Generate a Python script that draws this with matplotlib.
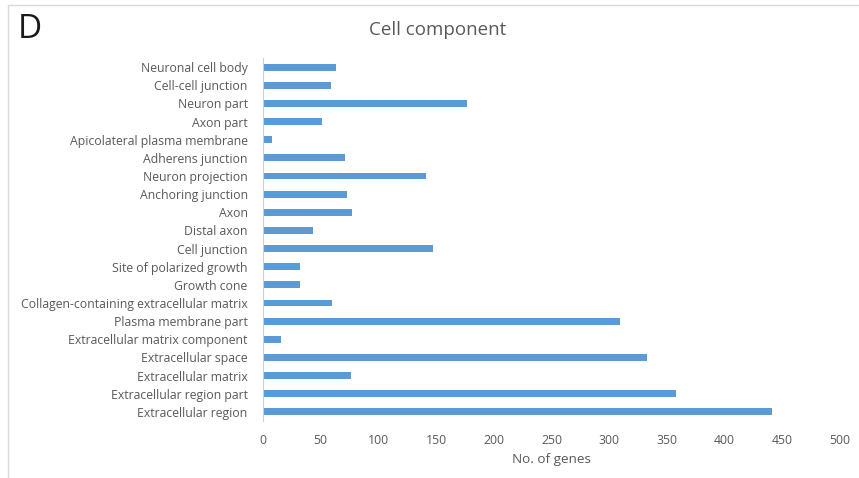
import matplotlib.pyplot as plt
from matplotlib.patches import Rectangle

# GO cell component terms, listed bottom to top
terms = [
    "Extracellular region",
    "Extracellular region part",
    "Extracellular matrix",
    "Extracellular space",
    "Extracellular matrix component",
    "Plasma membrane part",
    "Collagen-containing extracellular matrix",
    "Growth cone",
    "Site of polarized growth",
    "Cell junction",
    "Distal axon",
    "Axon",
    "Anchoring junction",
    "Neuron projection",
    "Adherens junction",
    "Apicolateral plasma membrane",
    "Axon part",
    "Neuron part",
    "Cell-cell junction",
    "Neuronal cell body",
]
gene_counts = [441, 358, 76, 333, 16, 309, 60, 32, 32, 147,
               43, 77, 73, 141, 71, 8, 51, 177, 59, 63]
xticks = [0, 50, 100, 150, 200, 250, 300, 350, 400, 450, 500]

plt.rcParams['font.family'] = ['Open Sans', 'DejaVu Sans']
txt = '#595959'

fig = plt.figure(figsize=(8.59, 4.78), dpi=100)
ax = fig.add_axes([263 / 859, 1 - 421 / 478, (840 - 263) / 859, (421 - 58) / 478])

ax.barh(range(len(terms)), gene_counts, height=0.38, color='#5B9BD5')
ax.set_ylim(-0.5, len(terms) - 0.5)
ax.set_xlim(0, 500)
ax.set_xticks(xticks)
ax.set_yticks(range(len(terms)))
ax.set_yticklabels(terms)
ax.tick_params(length=0, labelsize=8.8, colors=txt)
ax.tick_params(axis='x', pad=9)
ax.tick_params(axis='y', pad=11)
for s in ['top', 'right', 'bottom']:
    ax.spines[s].set_visible(False)
ax.spines['left'].set_color('#D0D0D0')
ax.set_xlabel('No. of genes', fontsize=9.7, color=txt, labelpad=5)

fig.text(438 / 859, 1 - 30 / 478, 'Cell component', fontsize=13.5,
         color=txt, ha='center', va='center')
fig.text(18 / 859, 1 - 29 / 478, 'D', fontsize=24, color='#1a1a1a',
         ha='left', va='center')

# panel frame, open to the right and bottom
fig.add_artist(Rectangle((8 / 859, -0.1), 1.2, 1 - 5 / 478 + 0.1,
                         transform=fig.transFigure, fill=False,
                         edgecolor='#D9D9D9', linewidth=1))

fig.savefig('out.png', dpi=100)
